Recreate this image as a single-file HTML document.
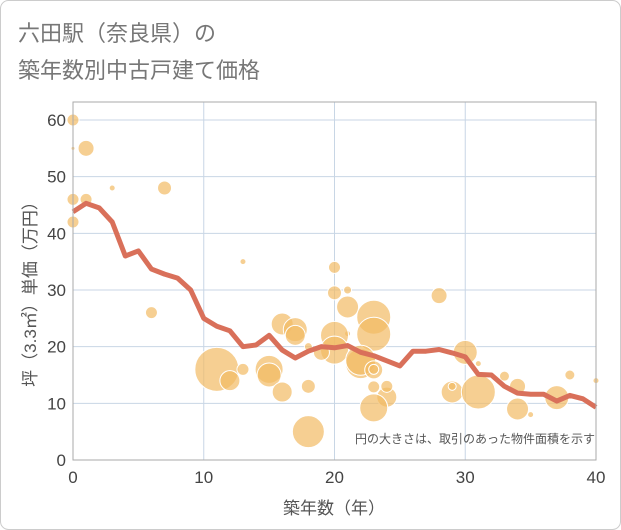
<!DOCTYPE html>
<html><head><meta charset="utf-8"><style>
body{margin:0;background:#fff;}
svg{display:block;font-family:"Liberation Sans","Noto Sans CJK JP",sans-serif;}
</style></head><body>
<svg id="c" width="621" height="530">
<rect x="0.5" y="0.5" width="620" height="529" rx="8" fill="#fff" stroke="#ccc"/>
<text x="18" y="41" font-size="22" fill="#777">六田駅（奈良県）の</text>
<text x="18" y="78" font-size="22" fill="#777">築年数別中古戸建て価格</text>
<g id="grid"></g><g id="bubbles"></g><g id="line"></g><g id="axes"></g>
<text x="595" y="443" font-size="12" fill="#555" text-anchor="end">円の大きさは、取引のあった物件面積を示す</text>
<text x="334" y="514" font-size="17" fill="#555" text-anchor="middle">築年数（年）</text>
<text transform="translate(36,290) rotate(-90)" font-size="17" fill="#555" text-anchor="middle">坪（3.3㎡）単価（万円）</text>
</svg>
<script>
const xTicks=[0,10,20,30,40];
const yTicks=[0,10,20,30,40,50,60];
const lineYears=[0,1,2,3,4,5,6,7,8,9,10,11,12,13,14,15,16,17,18,19,20,21,22,23,24,25,26,27,28,29,30,31,32,33,34,35,36,37,38,39,40];
const lineValues=[43.8,45.3,44.5,42,36,36.9,33.7,32.8,32.1,30,25,23.6,22.8,20,20.3,22,19.4,18,19.2,20,19.8,20.2,19,18.4,17.5,16.6,19.2,19.2,19.5,18.9,18.2,15.1,15,13,11.8,11.6,11.6,10.4,11.4,10.8,9.3];
const bubbleYears=[0,0,1,0,1,0,3,7,6,13,11,12,13,15,15,16,16,17,17,18,18,18,20,20,21,21,23,23,21,22,20,20,22,23,23,23,24,24,23,19,28,30,31,29,29,31,33,34,34,35,37,38,40];
const bubbleValues=[60,55,55,46,46,42,48,48,26,35,16,14,16,16,15,12,24,23,22,20,13,5,34,29.5,30,27,25.2,22.2,22.3,17,22,19.4,17.6,15.9,16,12.9,11.1,13,9.2,19,29,19,17,12,13,12,14.8,13,9,8,11,15,14];
const bubbleSizes=[6,2,8,6,6,6,3,7,6,3,22,10,6,14,12,10,11,12,10,4,7,16,6,7,4,11,17,17,3,15,14,14,15,9,5,6,10,6,14,8,8,12,3,11,4,17,5,8,11,3,12,5,3];
const X0=73,X1=596,Y0=460,Y1=120;
const xs=v=>X0+(v/40)*(X1-X0), ys=v=>Y0-(v/60)*(Y0-Y1);
const NS="http://www.w3.org/2000/svg";
function mk(tag,attrs,parent){const e=document.createElementNS(NS,tag);for(const k in attrs)e.setAttribute(k,attrs[k]);document.getElementById(parent).appendChild(e);return e;}
xTicks.forEach(t=>{const l=mk('line',{x1:xs(t),x2:xs(t),y1:Y1-18,y2:Y0,stroke:'#c8d6e5','stroke-width':1},'grid');


const tx=mk('text',{x:xs(t),y:Y0+23,'font-size':17,fill:'#444','text-anchor':'middle'},'axes');tx.textContent=t;

});
yTicks.forEach(t=>{const l=mk('line',{x1:X0,x2:X1,y1:ys(t),y2:ys(t),stroke:'#c8d6e5','stroke-width':1},'grid');


const tx=mk('text',{x:X0-7,y:ys(t)+6,'font-size':17,fill:'#444','text-anchor':'end'},'axes');tx.textContent=t;

});
const fr=mk('rect',{x:X0,y:Y1-18,width:X1-X0,height:Y0-Y1+18,fill:'none',stroke:'#aaa'},'axes');


bubbleYears.forEach((yr,i)=>{const c=mk('circle',{cx:xs(yr),cy:ys(bubbleValues[i]),r:bubbleSizes[i],fill:'rgba(242,186,100,0.7)',stroke:'#fff','stroke-width':1},'bubbles');

});
const p=mk('polyline',{points:lineYears.map((y,i)=>xs(y)+','+ys(lineValues[i])).join(' '),fill:'none',stroke:'#d9705a','stroke-width':5,'stroke-linejoin':'round'},'line');


</script>
</body></html>
